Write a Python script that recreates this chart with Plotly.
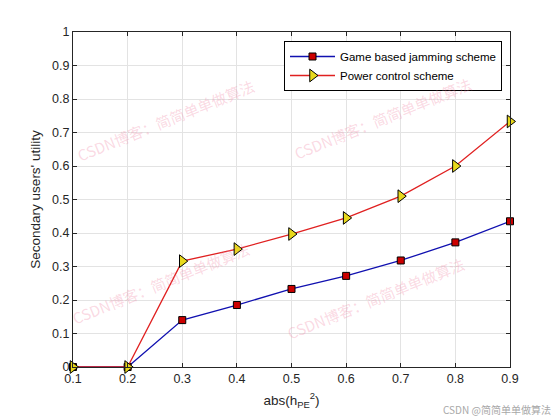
import plotly.graph_objects as go

x_vals = [0.1, 0.2, 0.3, 0.4, 0.5, 0.6, 0.7, 0.8, 0.9]
game_jamming = [0.0, 0.0, 0.140, 0.185, 0.233, 0.272, 0.318, 0.372, 0.435]
power_control = [0.0, 0.0, 0.316, 0.352, 0.397, 0.445, 0.510, 0.600, 0.733]
x_ticks = [0.1, 0.2, 0.3, 0.4, 0.5, 0.6, 0.7, 0.8, 0.9]
y_ticks = [0, 0.1, 0.2, 0.3, 0.4, 0.5, 0.6, 0.7, 0.8, 0.9, 1]

FONT = "Liberation Sans, Arial, sans-serif"
OFF = 8  # page body margin
W, H = 560 - OFF, 420 - OFF
pl, pr, pt, pb = 73 - OFF, 510 - OFF, 32 - OFF, 367 - OFF

fig = go.Figure()
fig.add_trace(go.Scatter(
    x=x_vals, y=game_jamming, mode="lines+markers",
    name="Game based jamming scheme",
    line=dict(color="#1010b0", width=1.3),
    marker=dict(symbol="square", size=7, color="#cc0000",
                line=dict(color="black", width=1)),
    cliponaxis=False,
))
fig.add_trace(go.Scatter(
    x=x_vals, y=power_control, mode="lines+markers",
    name="Power control scheme",
    line=dict(color="#e02020", width=1.3),
    marker=dict(symbol="triangle-right", size=11, color="#e8d81c",
                line=dict(color="black", width=1)),
    cliponaxis=False,
))

fig.update_layout(
    width=W, height=H,
    paper_bgcolor="white", plot_bgcolor="white",
    margin=dict(l=pl, r=W - pr, t=pt, b=H - pb),
    font=dict(family=FONT, size=12.5, color="#262626"),
    showlegend=True,
    legend=dict(
        x=(502 - 73) / (510 - 73), y=(367 - 41) / (367 - 32),
        xanchor="right", yanchor="top",
        bgcolor="white", bordercolor="black", borderwidth=1,
        font=dict(family=FONT, size=11.5, color="black"),
        tracegroupgap=0, itemwidth=45,
    ),
    xaxis=dict(
        range=[0.1, 0.9], tickvals=x_ticks,
        ticktext=[str(t) for t in x_ticks],
        showgrid=True, gridcolor="#e3e3e3", gridwidth=1,
        zeroline=False, showline=True, linecolor="#262626", linewidth=1,
        mirror="ticks", ticks="inside", ticklen=4, tickcolor="#262626",
        title=dict(text="abs(h<sub>PE</sub><sup>2</sup>)", font=dict(size=13.5, family=FONT), standoff=10),
    ),
    yaxis=dict(
        range=[0, 1], tickvals=y_ticks,
        ticktext=[("%g" % t) for t in y_ticks],
        showgrid=True, gridcolor="#e3e3e3", gridwidth=1,
        zeroline=False, showline=True, linecolor="#262626", linewidth=1,
        mirror="ticks", ticks="inside", ticklen=4, tickcolor="#262626",
        title=dict(text="Secondary users' utility", font=dict(size=13.5, family=FONT), standoff=8),
    ),
)

wm_text = "CSDN博客：简简单单做算法"
wm_font = dict(family="Noto Sans CJK SC, serif", size=15, color="rgba(240,130,160,0.30)")
anns = []
for (px, py) in [(165, 120), (382, 118), (160, 283), (375, 298)]:
    anns.append(dict(
        x=(px - 73) / (510 - 73), y=(367 - py) / (367 - 32), xref="paper", yref="paper",
        text=wm_text, showarrow=False, textangle=-22, font=wm_font,
        xanchor="center", yanchor="middle",
    ))
anns.append(dict(
    x=(553 - 73) / (510 - 73), y=(367 - 409) / (367 - 32), xref="paper", yref="paper",
    text="CSDN @简简单单做算法", showarrow=False,
    font=dict(family="Noto Sans CJK SC, sans-serif", size=10, color="#a8a8a8"),
    xanchor="right", yanchor="middle",
))
fig.update_layout(annotations=anns)

fig.write_html("out.html")
